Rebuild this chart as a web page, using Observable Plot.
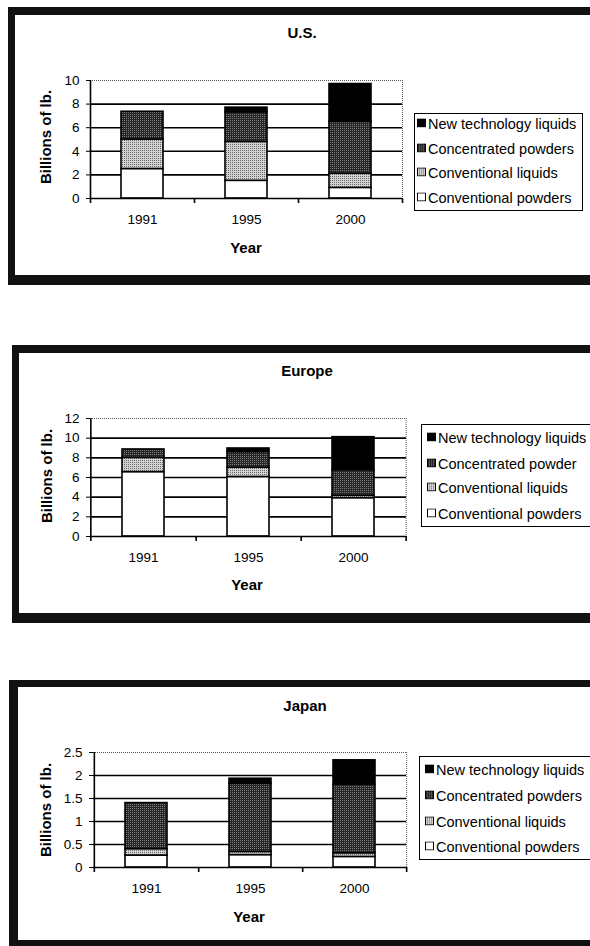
<!DOCTYPE html>
<html>
<head>
<meta charset="utf-8">
<script src="https://cdn.jsdelivr.net/npm/d3@7"></script>
<script src="https://cdn.jsdelivr.net/npm/@observablehq/plot@0.6"></script>
<style>
  html, body { margin: 0; padding: 0; background: #fff; }
  body { width: 590px; height: 946px; position: relative; overflow: hidden; font-family: 'Liberation Sans', Arial, sans-serif; color: #000; }
  .panel { position: absolute; border: 8px solid #111; box-sizing: border-box; }
  .abs { position: absolute; white-space: nowrap; }
  .title { font-weight: bold; font-size: 15px; line-height: 15px; transform: translateX(-50%); }
  .ylab { font-weight: bold; font-size: 15px; line-height: 15px; transform: translate(-50%, -50%) rotate(-90deg); }
  .xlab { font-weight: bold; font-size: 15px; line-height: 15px; transform: translate(-50%, -50%); }
  .legend { position: absolute; border: 1.3px solid #000; box-sizing: border-box; background: #fff; }
  .litem { position: absolute; font-size: 14.5px; line-height: 16px; white-space: nowrap; transform: translateY(-50%); }
  .plotwrap { position: absolute; }
  .plotwrap svg text { font-size: 13.5px !important; fill: #000; }
</style>
</head>
<body>
<svg width="0" height="0" style="position:absolute">
  <defs>
    <pattern id="pLight" width="2" height="2" patternUnits="userSpaceOnUse">
      <rect width="2" height="2" fill="#d2d2d2"></rect>
      <rect width="1" height="1" fill="#6a6a6a"></rect>
    </pattern>
    <pattern id="pDark" width="2" height="2" patternUnits="userSpaceOnUse">
      <rect width="2" height="2" fill="#262626"></rect>
      <rect width="1" height="1" fill="#7e7e7e"></rect>
    </pattern>
  </defs>
</svg>
<script>
// ---------- data ----------
const years = ["1991", "1995", "2000"];
const seriesKeys = ["Conventional powders", "Conventional liquids", "Concentrated powders", "New technology liquids"];
const seriesFills = ["#ffffff", "url(#pLight)", "url(#pDark)", "#000000"];

// U.S. (billions of lb.)
const usConvPowders   = [2.5, 1.5, 0.9];
const usConvLiquids   = [2.5, 3.3, 1.2];
const usConcPowders   = [2.35, 2.5, 4.4];
const usNewTechLiquids = [0, 0.4, 3.2];
const usYTicks = [0, 2, 4, 6, 8, 10];
const usLegendLabels = ["New technology liquids", "Concentrated powders", "Conventional liquids", "Conventional powders"];

// Europe
const euConvPowders   = [6.55, 6.05, 3.9];
const euConvLiquids   = [1.45, 0.95, 0.25];
const euConcPowders   = [0.85, 1.6, 2.6];
const euNewTechLiquids = [0, 0.35, 3.35];
const euYTicks = [0, 2, 4, 6, 8, 10, 12];
const euLegendLabels = ["New technology liquids", "Concentrated powder", "Conventional liquids", "Conventional powders"];

// Japan
const jpConvPowders   = [0.26, 0.27, 0.23];
const jpConvLiquids   = [0.14, 0.07, 0.08];
const jpConcPowders   = [1.0, 1.48, 1.49];
const jpNewTechLiquids = [0, 0.11, 0.53];
const jpYTicks = [0, 0.5, 1, 1.5, 2, 2.5];
const jpLegendLabels = ["New technology liquids", "Concentrated powders", "Conventional liquids", "Conventional powders"];

const panelTitles = ["U.S.", "Europe", "Japan"];
const yAxisTitle = "Billions of lb.";
const xAxisTitle = "Year";

// ---------- helpers ----------
function makeRows(cols) {
  const rows = [];
  seriesKeys.forEach((k, j) => years.forEach((y, i) => {
    if (cols[j][i] > 0) rows.push({year: y, series: k, value: cols[j][i]});
  }));
  return rows;
}

function addDiv(cls, text, css) {
  const d = document.createElement("div");
  d.className = cls;
  if (text != null) d.textContent = text;
  Object.assign(d.style, css);
  document.body.appendChild(d);
  return d;
}

function drawPlot(rows, ticks, L) {
  const mt = 20, mb = 37, mr = 10;
  const plotH = L.height - mt - mb;
  const step = (L.width - L.ml - mr) / years.length;
  const ymax = ticks[ticks.length - 1];
  const chart = Plot.plot({
    width: L.width, height: L.height,
    marginLeft: L.ml, marginRight: mr, marginTop: mt, marginBottom: mb,
    style: {fontFamily: "'Liberation Sans', Arial, sans-serif", fontSize: "13.5px", background: "transparent", color: "#000", overflow: "visible"},
    x: {type: "band", domain: years, paddingInner: 0.6, paddingOuter: 0.3, tickSize: 0, tickPadding: 16, label: null},
    y: {domain: [0, ymax], ticks: ticks, tickFormat: d => String(d), tickSize: 4, tickPadding: 7, label: null},
    color: {type: "ordinal", domain: seriesKeys, range: seriesFills},
    marks: [
      Plot.ruleY(ticks.filter(t => t > 0 && t < ymax), {stroke: "#000", strokeWidth: 1.6}),
      Plot.ruleY([ymax], {stroke: "#555", strokeWidth: 1, strokeDasharray: "1,1"}),
      Plot.ruleX([years[years.length - 1]], {dx: step / 2, stroke: "#555", strokeWidth: 1, strokeDasharray: "1,1"}),
      Plot.barY(rows, {x: "year", y: "value", fill: "series", stroke: "#000", strokeWidth: 1.6}),
      Plot.ruleX([years[0]], {dx: -step / 2, stroke: "#000", strokeWidth: 1.6}),
      Plot.ruleY([0], {stroke: "#000", strokeWidth: 1.6}),
      Plot.ruleX([years[0]], {dx: -step / 2, insetTop: plotH, insetBottom: -5, stroke: "#000", strokeWidth: 1.6}),
      Plot.ruleX(years, {dx: step / 2, insetTop: plotH, insetBottom: -5, stroke: "#000", strokeWidth: 1.6})
    ]
  });
  const wrap = addDiv("plotwrap", null, {left: L.left + "px", top: L.top + "px"});
  wrap.appendChild(chart);
}

function drawLegend(labels, G) {
  const box = addDiv("legend", null, {left: G.x + "px", top: G.y + "px", width: G.w + "px", height: G.h + "px"});
  const fills = seriesFills.slice().reverse();
  labels.forEach((lab, i) => {
    const it = document.createElement("div");
    it.className = "litem";
    it.style.left = (G.sx - G.x - 1) + "px";
    it.style.top = (G.items[i] - G.y - 1) + "px";
    it.innerHTML = '<svg width="9" height="9" style="vertical-align:middle;margin-right:2px;position:relative;top:-1px"><rect x="0.5" y="0.5" width="8" height="8" fill="' + fills[i] + '" stroke="#000" stroke-width="1"></rect></svg>';
    const sp = document.createElement("span");
    sp.textContent = lab;
    sp.style.verticalAlign = "middle";
    it.appendChild(sp);
    box.appendChild(it);
  });
}

// ---------- panels ----------
const panels = [
  {
    title: panelTitles[0],
    cols: [usConvPowders, usConvLiquids, usConcPowders, usNewTechLiquids],
    ticks: usYTicks, legend: usLegendLabels,
    frame: {left: 8, top: 7, width: 600, height: 278, bw: "8px 8px 10px 7px"},
    titlePos: [302, 25],
    plot: {left: 20, top: 60, ml: 70, width: 392, height: 175},
    ylab: [45, 137], xlab: [246, 247],
    leg: {x: 414, y: 113, w: 169, h: 98, sx: 417, items: [123, 148, 172, 197]}
  },
  {
    title: panelTitles[1],
    cols: [euConvPowders, euConvLiquids, euConcPowders, euNewTechLiquids],
    ticks: euYTicks, legend: euLegendLabels,
    frame: {left: 12, top: 345, width: 600, height: 278, bw: "8px 8px 10px 7px"},
    titlePos: [307, 363],
    plot: {left: 20, top: 398, ml: 70, width: 396, height: 175},
    ylab: [46, 476], xlab: [247, 584],
    leg: {x: 421, y: 424, w: 190, h: 103, sx: 427, items: [437, 463, 487, 513]}
  },
  {
    title: panelTitles[2],
    cols: [jpConvPowders, jpConvLiquids, jpConcPowders, jpNewTechLiquids],
    ticks: jpYTicks, legend: jpLegendLabels,
    frame: {left: 9, top: 680, width: 600, height: 268, bw: "7px 8px 8px 9px"},
    titlePos: [305, 698],
    plot: {left: 20, top: 732, ml: 73, width: 396, height: 172},
    ylab: [45, 810], xlab: [249, 916],
    leg: {x: 419, y: 756, w: 190, h: 104, sx: 425, items: [769, 795, 821, 846]}
  }
];

panels.forEach(P => {
  addDiv("panel", null, {left: P.frame.left + "px", top: P.frame.top + "px", width: P.frame.width + "px", height: P.frame.height + "px", borderWidth: P.frame.bw});
  drawPlot(makeRows(P.cols), P.ticks, P.plot);
  addDiv("abs title", P.title, {left: P.titlePos[0] + "px", top: P.titlePos[1] + "px"});
  addDiv("abs ylab", yAxisTitle, {left: P.ylab[0] + "px", top: P.ylab[1] + "px"});
  addDiv("abs xlab", xAxisTitle, {left: P.xlab[0] + "px", top: P.xlab[1] + "px"});
  drawLegend(P.legend, P.leg);
});
</script>
</body>
</html>
